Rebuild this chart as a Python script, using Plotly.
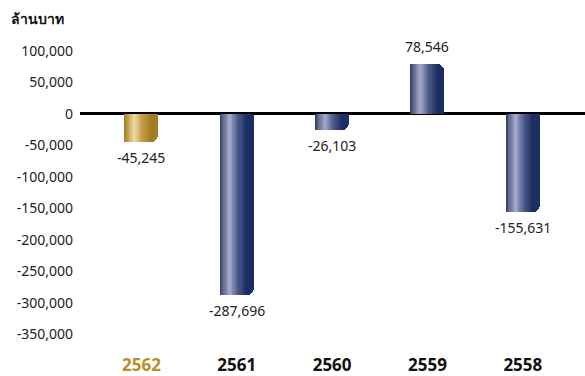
import plotly.graph_objects as go

categories = ["2562", "2561", "2560", "2559", "2558"]
values = [-45245, -287696, -26103, 78546, -155631]
tick_vals = [100000, 50000, 0, -50000, -100000, -150000, -200000, -250000, -300000, -350000]
unit_title = "ล้านบาท"

blue_stops = [(0.0, (58, 64, 98)), (0.12, (100, 108, 146)), (0.36, (166, 171, 204)),
              (0.66, (78, 92, 140)), (1.0, (28, 46, 100))]
gold_stops = [(0.0, (168, 128, 42)), (0.12, (196, 160, 80)), (0.36, (234, 220, 170)),
              (0.66, (196, 156, 66)), (1.0, (164, 124, 34))]


def interp(stops, t):
    for (t0, c0), (t1, c1) in zip(stops[:-1], stops[1:]):
        if t0 <= t <= t1:
            f = (t - t0) / (t1 - t0) if t1 > t0 else 0
            c = [round(a + (b - a) * f) for a, b in zip(c0, c1)]
            return "rgb(%d,%d,%d)" % tuple(c)
    return "rgb(%d,%d,%d)" % stops[-1][1]


xs = list(range(len(categories)))
px_per_unit = 95.35
bar_w = 34 / px_per_unit
radius_px = 7
r_u = radius_px / px_per_unit
grad_w = bar_w - r_u
N = 32
step = grad_w / N

fig = go.Figure()

# rounded end piece (gives the rounded outer corner)
end_w = 2 * r_u + 3 / px_per_unit
fig.add_trace(go.Bar(
    x=xs, y=values,
    offset=-bar_w / 2 + bar_w - end_w, width=end_w,
    marker=dict(color=[interp(gold_stops if i == 0 else blue_stops, 1.0) for i in xs],
                line=dict(width=0), cornerradius=radius_px),
    hoverinfo="skip", showlegend=False,
))

# gradient strips, each running to the start of the rounded end
for k in range(N):
    t = k / (N - 1)
    colors = [interp(gold_stops if i == 0 else blue_stops, t) for i in xs]
    fig.add_trace(go.Bar(
        x=xs, y=values,
        offset=-bar_w / 2 + k * step,
        width=grad_w - k * step + 0.5 / px_per_unit,
        marker=dict(color=colors, line=dict(width=0)),
        hoverinfo="skip", showlegend=False,
    ))

annotations = []
for i, v in enumerate(values):
    annotations.append(dict(
        x=xs[i], y=v, xref="x", yref="y",
        text=f"{v:,}", showarrow=False,
        yanchor="top" if v < 0 else "bottom",
        yshift=-4 if v < 0 else 6,
        font=dict(size=14, color="#222222"),
    ))

annotations.append(dict(
    text=f"<b>{unit_title}</b>", xref="paper", yref="paper",
    x=-0.14, y=1.0, xanchor="left", yanchor="bottom", yshift=8,
    showarrow=False, font=dict(size=14, color="#111111"),
))

ticktext = []
for i, c in enumerate(categories):
    col = "#b8902a" if i == 0 else "#111111"
    ticktext.append(f'<span style="color:{col}"><b>{c}</b></span>')

fig.update_layout(
    width=585, height=376,
    margin=dict(l=80, r=0, t=38, b=21),
    paper_bgcolor="white", plot_bgcolor="white",
    barmode="overlay", bargap=0,
    font=dict(family="Noto Sans, DejaVu Sans, sans-serif", color="#222222"),
    xaxis=dict(
        range=[-0.644, 4.652], tickvals=xs, ticktext=ticktext,
        showgrid=False, zeroline=False, showline=False, ticks="",
        tickfont=dict(size=17), fixedrange=True,
    ),
    yaxis=dict(
        range=[-380000, 120000], tickvals=tick_vals,
        ticktext=[f"{v:,}" for v in tick_vals],
        showgrid=False, zeroline=True, zerolinecolor="black", zerolinewidth=2.5,
        showline=False, ticks="", tickfont=dict(size=14, color="#222222"),
        ticklabelstandoff=6,
    ),
    annotations=annotations,
)

fig.write_html("out.html")
